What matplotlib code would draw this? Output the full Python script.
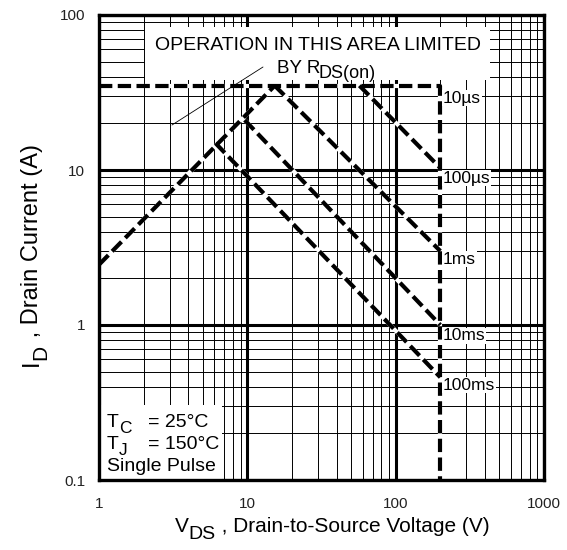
import matplotlib
matplotlib.use("Agg")
import matplotlib.pyplot as plt
from matplotlib.patches import Rectangle
from matplotlib.transforms import IdentityTransform

plt.rcParams['font.family'] = ['Liberation Sans', 'DejaVu Sans']

# ---- data (V in volts, I in amps) ----
rds_v = [1.0, 15.3]
rds_i = [2.45, 35.0]
limit_v = [1.0, 200.0, 200.0]
limit_i = [35.0, 35.0, 0.1]
us100_v = [57.0, 200.0]
us100_i = [35.0, 10.3]
ms1_v = [15.3, 200.0]
ms1_i = [35.0, 3.0]
ms10_v = [9.6, 200.0]
ms10_i = [21.0, 1.0]
ms100_v = [6.1, 200.0]
ms100_i = [14.9, 0.46]

x_ticks = [1, 10, 100, 1000]
x_ticklabels = ['1', '10', '100', '1000']
y_ticks = [0.1, 1, 10, 100]
y_ticklabels = ['0.1', '1', '10', '100']

pulse_labels = ['10µs', '100µs', '1ms', '10ms', '100ms']

W, H = 567, 550
fig = plt.figure(figsize=(W / 100, H / 100), dpi=100)
L, T, R, B = 99, 15, 544, 480
ax = fig.add_axes([L / W, 1 - B / H, (R - L) / W, (B - T) / H])
ax.set_xscale('log')
ax.set_yscale('log')
ax.set_xlim(1, 1000)
ax.set_ylim(0.1, 100)
renderer = fig.canvas.get_renderer()


def axf(px, py):
    return ((px - L) / (R - L), (B - py) / (B - T))


def seq_text(px, py, pieces, rotation=0, zorder=5):
    """Draw text pieces one after another, starting at image pixel (px, py)
    on the baseline; pieces = (string, fontsize, drop_px)."""
    x, y = px, H - py
    for s, fs, drop in pieces:
        if rotation == 0:
            t = fig.text(x, y - drop, s, transform=IdentityTransform(),
                         ha='left', va='baseline', fontsize=fs, zorder=zorder)
            x += t.get_window_extent(renderer).width
        else:
            t = fig.text(x + drop, y, s, transform=IdentityTransform(),
                         ha='left', va='baseline', fontsize=fs,
                         rotation=90, rotation_mode='anchor', zorder=zorder)
            y += t.get_window_extent(renderer).height


ax.set_axisbelow(True)
ax.grid(which='major', color='black', lw=2.2)
ax.grid(which='minor', color='black', lw=0.7)
ax.set_xticks(x_ticks)
ax.set_xticklabels(x_ticklabels)
ax.set_yticks(y_ticks)
ax.set_yticklabels(y_ticklabels)
ax.tick_params(which='both', length=0)
ax.tick_params(axis='x', pad=12)
ax.tick_params(axis='y', pad=10)
for lab in ax.get_xticklabels() + ax.get_yticklabels():
    lab.set_family(['Liberation Sans Narrow', 'Liberation Sans'])
    lab.set_fontsize(11)
    lab.set_color('#222222')
ax.xaxis.set_minor_formatter(plt.NullFormatter())
ax.yaxis.set_minor_formatter(plt.NullFormatter())
for s in ax.spines.values():
    s.set_linewidth(2.4)
    s.set_zorder(6)

# white boxes behind texts
x0, y0 = axf(145, 80)
x1, y1 = axf(490, 27)
ax.add_patch(Rectangle((x0, y0), x1 - x0, y1 - y0, transform=ax.transAxes,
                       facecolor='white', edgecolor='none', zorder=1))
x0, y0 = axf(99, 480)
x1, y1 = axf(222, 405)
ax.add_patch(Rectangle((x0, y0), x1 - x0, y1 - y0, transform=ax.transAxes,
                       facecolor='white', edgecolor='none', zorder=1))

# dashed lines
dash = (0, (3.2, 1.3))
for vv, ii in [(limit_v, limit_i), (rds_v, rds_i), (us100_v, us100_i),
               (ms1_v, ms1_i), (ms10_v, ms10_i), (ms100_v, ms100_i)]:
    ax.plot(vv, ii, color='white', lw=3.0, solid_capstyle='butt', zorder=3)
    ax.plot(vv, ii, color='black', lw=3.0, linestyle=dash,
            dash_capstyle='butt', zorder=4)

# pointer line
ax.annotate('', xy=axf(172, 125), xytext=axf(263, 67),
            xycoords='axes fraction', textcoords='axes fraction',
            arrowprops=dict(arrowstyle='-', lw=0.6, color='black',
                            shrinkA=0, shrinkB=0), zorder=5)

# texts
ax.text(*axf(318, 45), 'OPERATION IN THIS AREA LIMITED', transform=ax.transAxes,
        ha='center', va='center', fontsize=14, zorder=5)
ax.text(*axf(277, 73), 'BY R', transform=ax.transAxes, ha='left',
        va='baseline', fontsize=13.5, zorder=5)
ax.text(*axf(318, 78), 'DS(on)', transform=ax.transAxes, ha='left',
        va='baseline', fontsize=13, zorder=5)

label_pos = [(443, 98), (443, 178), (443, 259), (443, 336), (443, 385)]
for lab, (px, py) in zip(pulse_labels, label_pos):
    ax.text(*axf(px, py), lab, transform=ax.transAxes, ha='left', va='center',
            fontsize=12.5, zorder=5,
            bbox=dict(facecolor='white', edgecolor='none', pad=0.5))

seq_text(107, 427, [('T', 14, 0), ('C', 12.5, 6)])
seq_text(148, 427, [('= 25°C', 14, 0)])
seq_text(107, 449, [('T', 14, 0), ('J', 12.5, 6)])
seq_text(148, 449, [('= 150°C', 14, 0)])
seq_text(107, 471, [('Single Pulse', 14, 0)])

seq_text(175, 532, [('V', 15, 0), ('DS', 14, 7),
                    (' , Drain-to-Source Voltage (V)', 15, 0)])
seq_text(38, 366, [('I', 17, 0), ('D', 15, 8),
                   (' , Drain Current (A)', 17, 0)], rotation=90)

fig.savefig('out.png', dpi=100)
